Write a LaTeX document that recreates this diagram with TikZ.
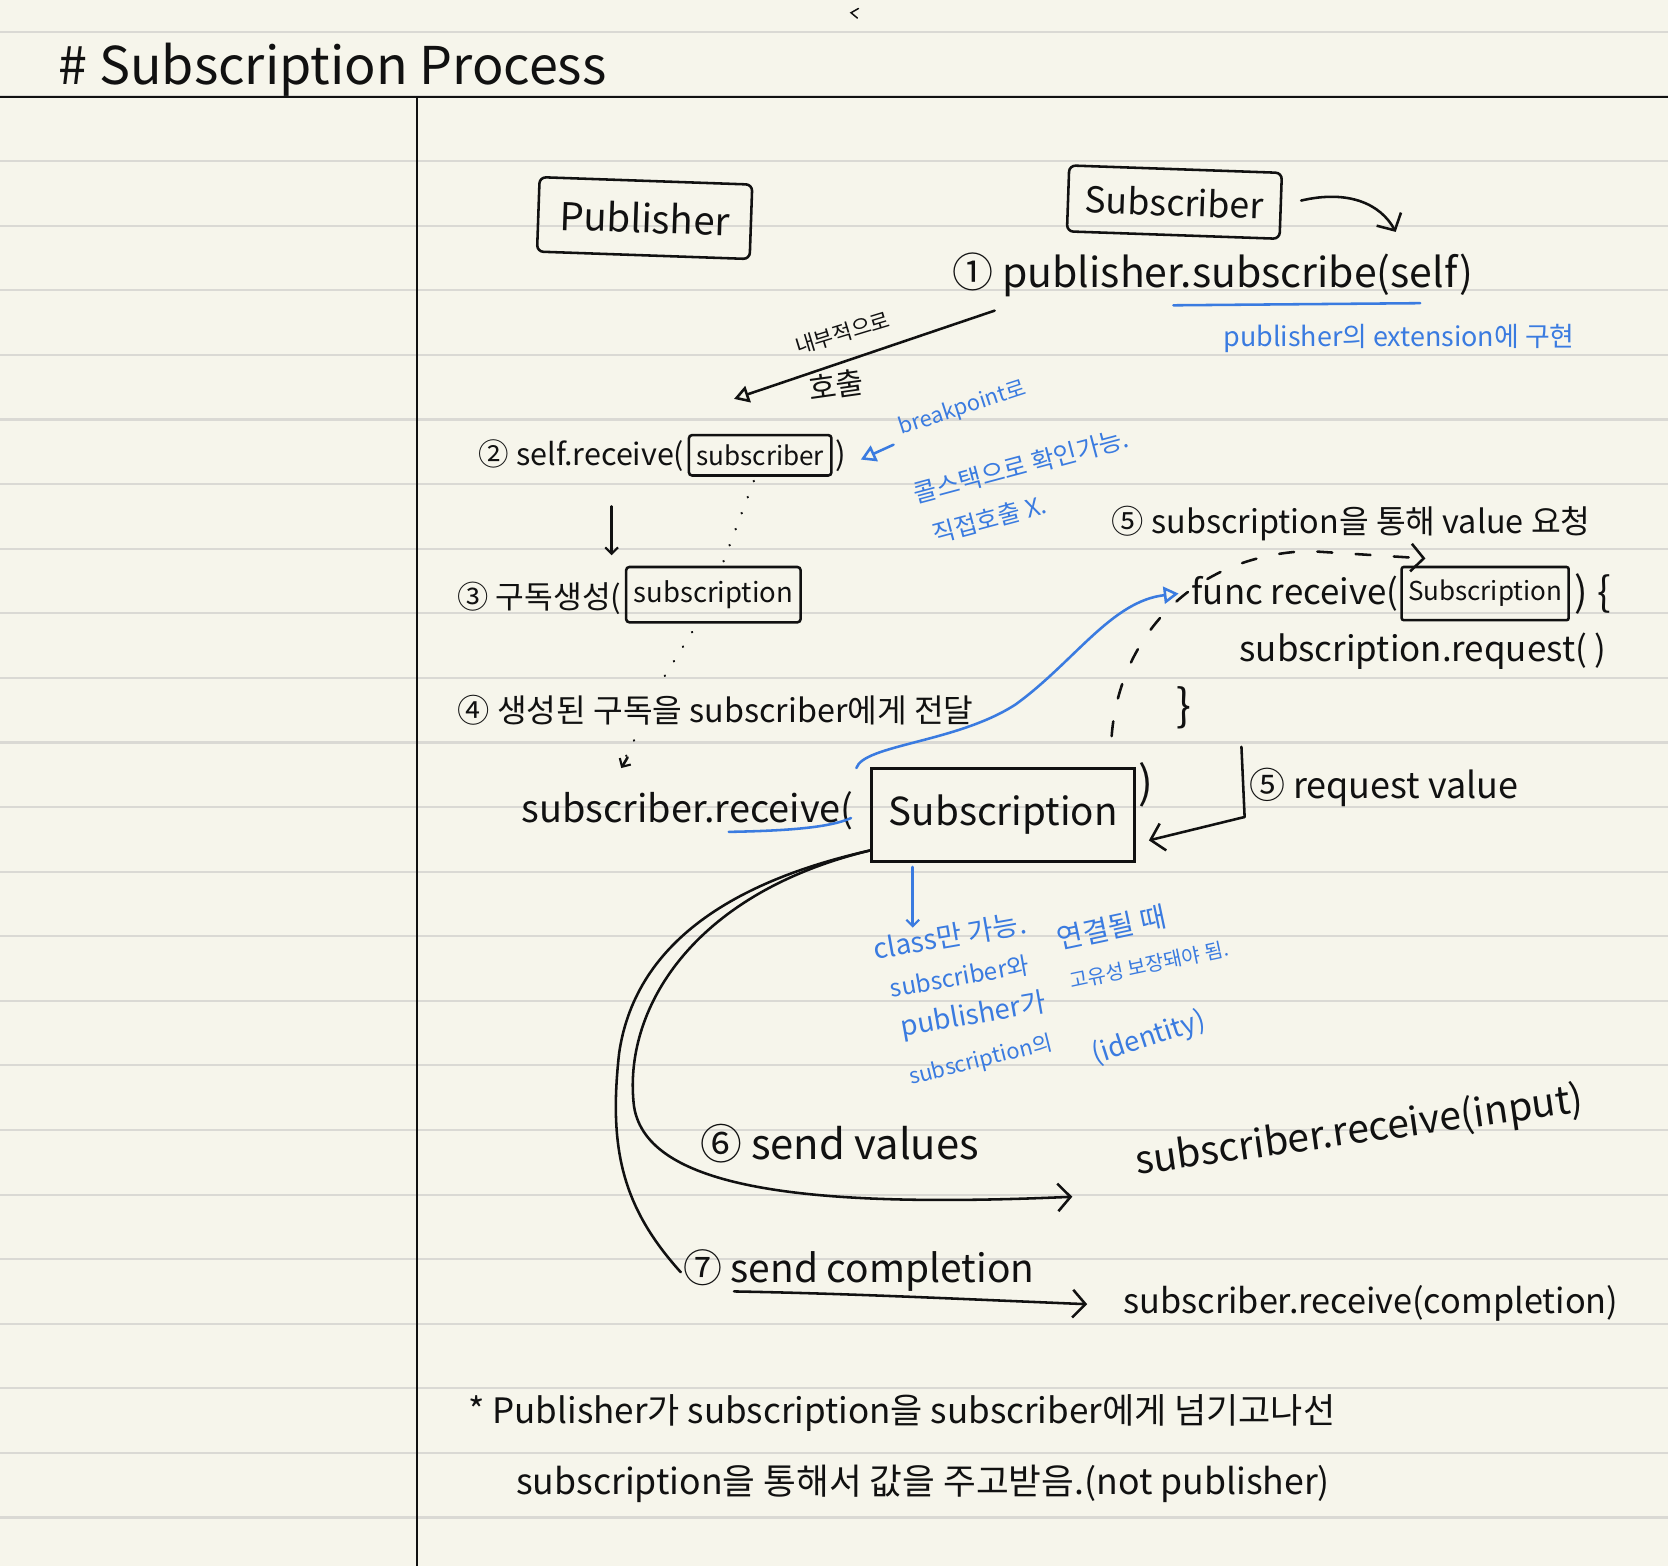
\documentclass[tikz,border=0pt]{standalone}
\usepackage{fontspec}
\setmainfont{Noto Sans CJK KR}
\usetikzlibrary{arrows.meta,calc}
\definecolor{paper}{HTML}{F6F5EB}
\definecolor{rulegray}{HTML}{DAD9D4}
\definecolor{pen}{HTML}{111111}
\definecolor{bluepen}{HTML}{3A7BE0}
\newcommand{\fitw}[2]{\resizebox{#1pt}{!}{\fontsize{30}{36}\selectfont #2}}
\tikzset{
  hw/.style={anchor=west,inner sep=0pt,text=pen},
  bw/.style={inner sep=0pt,text=bluepen},
  penline/.style={draw=pen,line width=2.4pt,line cap=round,line join=round},
  blueline/.style={draw=bluepen,line width=2.4pt,line cap=round,line join=round},
  barbhead/.style={-{Straight Barb[length=12pt,width=26pt,line width=2.4pt]}},
  smallbarb/.style={-{Straight Barb[length=6pt,width=12pt,line width=2pt]}},
  trihead/.style={-{Triangle[open,length=14pt,width=16pt,line width=2.4pt]}},
  boxedtxt/.style={draw=pen,line width=2.4pt,inner sep=2pt,rounded corners=3pt,anchor=west,text=pen},
  dotline/.style={draw=pen,line width=2.4pt,line cap=round,dash pattern=on 0.1pt off 16pt},
  dashline/.style={draw=pen,line width=2.4pt,line cap=round,dash pattern=on 14pt off 22pt},
}
\begin{document}
\begin{tikzpicture}[x=1pt,y=-1pt]
% paper
\fill[paper] (0,0) rectangle (1568,1472);
\useasboundingbox (0,0) rectangle (1568,1472);
\foreach \k in {0,...,23}{
  \draw[rulegray,line width=2pt] (0,{30+60.72*\k}) -- (1568,{30+60.72*\k});
}
\draw[pen,line width=2.2pt] (0,91) -- (1568,91);
\draw[pen,line width=2.2pt] (392,91) -- (392,1472);
\draw[pen,line width=1.4pt,line cap=round] (807,8) -- (800,12) -- (806,17);

% title
\node[hw] (title) at (55,66) {\fitw{515}{\# Subscription Process}};

% Publisher / Subscriber boxes
\node[draw=pen,line width=2.4pt,rounded corners=6pt,minimum width=200pt,minimum height=70pt,rotate=-2,text=pen] (pub) at (606,205) {\fitw{160}{Publisher}};
\node[draw=pen,line width=2.4pt,rounded corners=6pt,minimum width=200pt,minimum height=62pt,rotate=-2,text=pen] (sub) at (1104,190) {\fitw{168}{Subscriber}};
\coordinate (subout) at (1312,218);
\draw[penline,barbhead] (sub.east) ++(18,-5) .. controls (1268,178) and (1298,192) .. (subout);

% step 1
\node[hw] (s1) at (895,258) {\fitw{490}{① publisher.subscribe(self)}};
\coordinate (u1a) at (1103,287);
\coordinate (u1b) at (1335,285);
\draw[blueline] (u1a) -- (u1b);
\node[bw,anchor=west] (ext) at (1150,318) {\fitw{330}{publisher의 extension에 구현}};

% internal call arrow
\coordinate (callfrom) at (935,292);
\coordinate (callto) at (690,375);
\draw[penline,trihead] (callfrom) -- (callto);
\node[inner sep=0pt,text=pen,rotate=17] (lblin) at (792,313) {\fitw{92}{내부적으로}};
\node[inner sep=0pt,text=pen,rotate=8] (lblcall) at (786,362) {\fitw{52}{호출}};

% step 2
\node[hw] (s2a) at (450,428) {\fitw{193}{② self.receive(}};
\node[boxedtxt,minimum width=134pt,minimum height=38pt] (s2b) at ($(s2a.east)+(3,0)$) {\fitw{120}{subscriber}};
\node[hw] (s2c) at ($(s2b.east)+(2,0)$) {\fitw{10}{)}};

% blue note on breakpoint
\coordinate (bnfrom) at (840,418);
\draw[blueline,trihead] (bnfrom) -- ($(s2c.east)+(14,4)$);
\node[bw,rotate=18] (bn1) at (905,384) {\fitw{124}{breakpoint로}};
\node[bw,rotate=15] (bn2) at (960,438) {\fitw{208}{콜스택으로 확인가능.}};
\node[bw,rotate=15] (bn3) at (930,488) {\fitw{110}{직접호출 X.}};

% step 3
\coordinate (d3) at (575,476);
\coordinate (d3e) at (575,522);
\draw[penline,smallbarb] (d3) -- (d3e);
\node[hw] (s3a) at (430,562) {\fitw{154}{③ 구독생성(}};
\node[boxedtxt,minimum width=164pt,minimum height=52pt] (s3b) at ($(s3a.east)+(3,-3)$) {\fitw{150}{subscription}};
\draw[dotline] (s2b.south) ++(-6,4) -- ($(s3b.north)+(8,0)$);

% step 4
\node[hw] (s4) at (430,668) {\fitw{485}{④ 생성된 구독을 subscriber에게 전달}};
\draw[dotline] ($(s3b.south)+(-20,8)$) -- (622,640);
\coordinate (d4e) at (584,722);
\draw[dotline] (596,696) -- (588,712);
\draw[penline,smallbarb] (590,712) -- (d4e);

% subscriber.receive(Subscription)
\node[hw] (s5a) at (490,762) {\fitw{312}{subscriber.receive(}};
\draw[blueline] (685,782) .. controls (740,781) and (780,778) .. (800,769);
\node[draw=pen,line width=2.8pt,minimum width=247pt,minimum height=88pt,text=pen] (subbox) at (943,766) {\fitw{215}{Subscription}};
\node[hw] (s5c) at (1070,738) {\fitw{14}{)}};

% func receive
\node[hw] (f1) at (1120,558) {\fitw{194}{func receive(}};
\node[boxedtxt,minimum width=157pt,minimum height=50pt,rounded corners=2pt] (f1b) at ($(f1.east)+(2,0)$) {\fitw{145}{Subscription}};
\node[hw] (f1c) at ($(f1b.east)+(4,0)$) {\fitw{34}{) \{}};
\node[hw] (f2) at (1165,612) {\fitw{345}{subscription.request( )}};
\node[hw] (f3) at (1106,665) {\fitw{14}{\}}};

% blue link from receive( to func
\coordinate (bl0) at (805,722);
\draw[blueline,trihead] (bl0) .. controls (812,700) and (900,698) .. (955,662) .. controls (1010,622) and (1045,565) .. ($(f1.west)+(-12,0)$);

% step 5 label
\node[hw] (s5t) at (1045,492) {\fitw{450}{⑤ subscription을 통해 value 요청}};
\coordinate (dsh0) at (1045,692);
\coordinate (dsh1) at (1340,525);
\draw[dashline,barbhead] (dsh0) .. controls (1052,600) and (1120,522) .. (1230,518) -- (dsh1);

% request value
\node[hw] (rv) at (1174,740) {\fitw{253}{⑤ request value}};
\coordinate (rvtop) at (1167,702);
\coordinate (rvbot) at (1170,768);
\coordinate (rvend) at (1080,790);
\draw[penline] (rvtop) -- (rvbot);
\draw[penline,barbhead] (rvbot) -- (rvend);

% blue note class
\coordinate (cl0) at (858,815);
\coordinate (cl1) at (858,872);
\draw[blueline,smallbarb] (cl0) -- (cl1);
\node[bw,rotate=10] (c1) at (893,880) {\fitw{145}{class만 가능.}};
\node[bw,rotate=10] (c2) at (902,918) {\fitw{132}{subscriber와}};
\node[bw,rotate=10] (c3) at (915,955) {\fitw{138}{publisher가}};
\node[bw,rotate=14] (c4) at (922,997) {\fitw{138}{subscription의}};
\node[bw,rotate=12] (c5) at (1045,872) {\fitw{104}{연결될 때}};
\node[bw,rotate=12] (c6) at (1080,907) {\fitw{152}{고유성 보장돼야 됨.}};
\node[bw,rotate=18] (c7) at (1080,976) {\fitw{110}{(identity)}};

% steps 6 and 7
\node[hw] (s6) at (658,1075) {\fitw{262}{⑥ send values}};
\node[inner sep=0pt,text=pen,rotate=8] (r6) at (1278,1064) {\fitw{425}{subscriber.receive(input)}};
\node[hw] (s7) at (642,1194) {\fitw{330}{⑦ send completion}};
\node[hw] (r7) at (1056,1225) {\fitw{465}{subscriber.receive(completion)}};

\coordinate (v6end) at (1008,1125);
\draw[penline,barbhead] (subbox.south west) ++(0,-12) .. controls (650,840) and (585,950) .. (596,1040) .. controls (608,1118) and (760,1136) .. (v6end);
\draw[penline] (subbox.south west) ++(0,-12) .. controls (700,826) and (598,880) .. (582,990) .. controls (572,1080) and (585,1135) .. ($(s7.west)+(-2,2)$);
\coordinate (v7start) at (690,1214);
\coordinate (v7end) at (1022,1226);
\draw[penline,barbhead] (v7start) .. controls (800,1216) and (900,1221) .. (v7end);

% bottom notes
\node[hw] (b1) at (440,1328) {\fitw{815}{* Publisher가 subscription을 subscriber에게 넘기고나선}};
\node[hw] (b2) at (485,1395) {\fitw{765}{subscription을 통해서 값을 주고받음.(not publisher)}};
\end{tikzpicture}
\end{document}
